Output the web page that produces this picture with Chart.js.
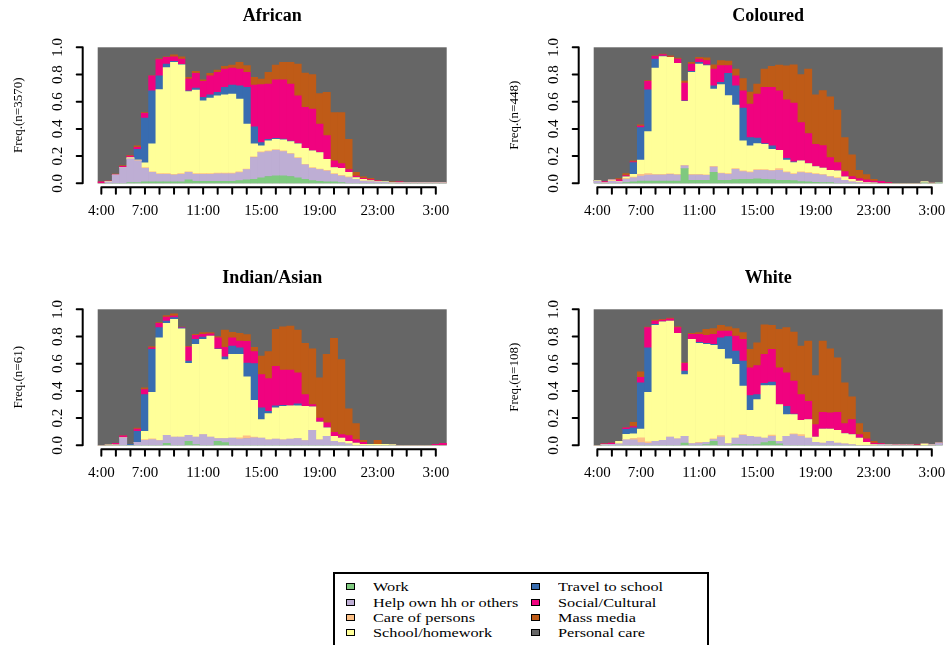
<!DOCTYPE html>
<html>
<head>
<meta charset="utf-8">
<title>Time use by population group</title>
<script src="https://cdn.jsdelivr.net/npm/chart.js@4.4.1/dist/chart.umd.min.js"></script>
<style>
  html, body { margin: 0; padding: 0; background: #fff; }
  body { width: 947px; height: 645px; overflow: hidden; position: relative; }
  canvas { position: absolute; }
  #african { left: 0; top: 0; }
  #coloured { left: 473px; top: 0; }
  #indian { left: 0; top: 262px; }
  #white { left: 473px; top: 262px; }
  #legendBox {
    position: absolute; left: 333px; top: 572px; width: 376px; height: 90px;
    box-sizing: border-box; border: 2px solid #000; background: #fff;
    font-family: "Liberation Serif", "Times New Roman", serif;
  }
  .swatch { position: absolute; width: 7px; height: 5px; border: 1.5px solid #000; }
  .legendText {
    position: absolute; font-size: 13px; line-height: 15px; height: 15px; white-space: nowrap;
    transform: scaleX(1.25); transform-origin: left center; color: #000;
  }
</style>
</head>
<body>
<canvas id="african" width="473" height="262"></canvas>
<canvas id="coloured" width="474" height="262"></canvas>
<canvas id="indian" width="473" height="262"></canvas>
<canvas id="white" width="474" height="262"></canvas>
<div id="legendBox"></div>

<script>
// half-hour slots, 4:00 to 3:30 next morning
const timeSlots = ["4:00","4:30","5:00","5:30","6:00","6:30","7:00","7:30","8:00","8:30","9:00","9:30",
  "10:00","10:30","11:00","11:30","12:00","12:30","13:00","13:30","14:00","14:30","15:00","15:30",
  "16:00","16:30","17:00","17:30","18:00","18:30","19:00","19:30","20:00","20:30","21:00","21:30",
  "22:00","22:30","23:00","23:30","0:00","0:30","1:00","1:30","2:00","2:30","3:00","3:30"];
const shownHourLabels = ["4:00","7:00","11:00","15:00","19:00","23:00","3:00"];
const yTicks = [0, 0.2, 0.4, 0.6, 0.8, 1.0];

const activities = ["Work","Help own hh or others","Care of persons","School/homework",
  "Travel to school","Social/Cultural","Mass media","Personal care"];
const activityColours = ["#7FC97F","#BEAED4","#FDC086","#FFFF99","#386CB0","#F0027F","#BF5B17","#666666"];

// African (n=3570)
const africanWork = [0,0,0,0,0.005,0.005,0.01,0.01,0.01,0.01,0.01,0.01,0.025,0.015,0.015,0.015,0.015,0.015,0.015,0.02,0.025,0.03,0.04,0.05,0.055,0.055,0.05,0.04,0.03,0.02,0.015,0.01,0.01,0.005,0,0,0,0,0,0,0,0,0,0,0,0,0,0];
const africanHelp = [0,0.01,0.06,0.115,0.175,0.16,0.1,0.07,0.056,0.056,0.05,0.056,0.055,0.051,0.051,0.051,0.055,0.055,0.055,0.059,0.075,0.16,0.186,0.183,0.188,0.178,0.164,0.144,0.105,0.09,0.085,0.08,0.056,0.049,0.042,0.03,0.017,0.012,0.01,0.008,0.003,0.003,0.003,0.003,0.003,0.003,0.003,0.003];
const africanCare = [0,0,0,0,0,0.005,0.005,0.005,0.005,0.005,0.005,0.005,0.005,0.005,0.005,0.005,0.005,0.005,0.005,0.005,0.005,0.005,0.005,0.005,0.005,0.005,0.005,0.005,0.005,0.005,0.005,0.005,0.005,0.005,0.005,0,0,0,0,0,0,0,0,0,0,0,0,0];
const africanSchool = [0,0.005,0,0,0.01,0,0.035,0.205,0.619,0.779,0.825,0.801,0.59,0.614,0.536,0.556,0.569,0.576,0.581,0.536,0.33,0.095,0.044,0.074,0.076,0.082,0.088,0.101,0.118,0.123,0.121,0.082,0.044,0.051,0.033,0.012,0.013,0.008,0.005,0.004,0.002,0,0,0,0,0,0,0];
const africanTravel = [0,0,0,0,0,0.08,0.33,0.39,0.1,0.027,0.007,0.003,0.005,0.015,0.025,0.024,0.024,0.054,0.066,0.097,0.27,0.125,0.025,0.012,0.006,0.005,0.003,0.002,0,0,0,0,0,0,0,0,0,0,0,0,0,0,0,0,0,0,0,0];
const africanSocial = [0.01,0.002,0.006,0.01,0.01,0.015,0.035,0.11,0.12,0.049,0.033,0.039,0.087,0.108,0.118,0.139,0.148,0.135,0.126,0.123,0.111,0.307,0.425,0.406,0.43,0.435,0.42,0.352,0.3,0.307,0.209,0.173,0.05,0.035,0.02,0.012,0.007,0.007,0.003,0.001,0.003,0.007,0.002,0.001,0.001,0.001,0.001,0.001];
const africanMedia = [0,0,0.002,0.005,0.005,0.01,0.005,0,0.005,0.004,0.015,0.016,0.013,0.015,0.01,0.018,0.017,0.02,0.022,0.05,0.049,0.058,0.042,0.086,0.11,0.13,0.16,0.233,0.252,0.255,0.225,0.318,0.355,0.375,0.224,0.026,0.01,0.01,0.002,0.002,0.002,0,0.001,0.001,0.001,0.001,0.004,0.001];

// Coloured (n=448)
const colouredWork = [0,0,0,0,0.005,0.01,0.017,0.017,0.017,0.017,0.017,0.017,0.108,0.022,0.022,0.022,0.08,0.022,0.022,0.027,0.03,0.03,0.032,0.03,0.027,0.022,0.022,0.02,0.012,0.01,0.008,0.005,0.005,0,0,0,0,0,0,0,0,0,0,0,0,0.004,0,0.003];
const colouredHelp = [0.015,0.003,0.015,0.01,0.025,0.03,0.037,0.043,0.043,0.043,0.048,0.043,0.02,0.038,0.038,0.036,0.04,0.049,0.044,0.076,0.056,0.049,0.064,0.066,0.064,0.074,0.057,0.046,0.067,0.064,0.058,0.055,0.042,0.037,0.022,0.01,0.005,0.003,0,0,0,0,0,0,0,0,0,0.002];
const colouredCare = [0,0,0.005,0,0.005,0.005,0.012,0.011,0.005,0.005,0.005,0.005,0.005,0.005,0.005,0.005,0.005,0.005,0.005,0.005,0.005,0.005,0.005,0.005,0.005,0.012,0.005,0.005,0.005,0.005,0.005,0.005,0.005,0.005,0,0,0,0,0,0,0,0,0,0,0,0,0,0];
const colouredSchool = [0.005,0,0.005,0.005,0.012,0.021,0.104,0.309,0.783,0.866,0.856,0.817,0.469,0.751,0.812,0.803,0.568,0.649,0.574,0.467,0.221,0.191,0.191,0.186,0.154,0.135,0.087,0.081,0.081,0.066,0.052,0.047,0.044,0.049,0.025,0.02,0.012,0.005,0.003,0,0,0,0,0,0,0.008,0.002,0.002];
const colouredTravel = [0,0,0,0,0,0.086,0.24,0.308,0.066,0.005,0,0,0.005,0.007,0.013,0.005,0.024,0.017,0.164,0.142,0.241,0.062,0.04,0.005,0.025,0,0.013,0.005,0,0,0,0,0,0,0,0,0,0,0,0,0,0,0,0,0,0,0,0];
const colouredSocial = [0,0.01,0.005,0.01,0.01,0.005,0.01,0.062,0.02,0.01,0.003,0.032,0.13,0.054,0.024,0.032,0.123,0.123,0.057,0.073,0.127,0.245,0.324,0.413,0.43,0.437,0.43,0.432,0.282,0.221,0.164,0.165,0.094,0.061,0.039,0.02,0.018,0.017,0.014,0.015,0.005,0,0,0,0,0,0,0];
const colouredMedia = [0,0,0,0.01,0.015,0.008,0.01,0.005,0.003,0.004,0.008,0.007,0.015,0.013,0.012,0.019,0.032,0.037,0.032,0.05,0.09,0.088,0.074,0.135,0.155,0.19,0.25,0.283,0.353,0.474,0.364,0.405,0.446,0.386,0.251,0.16,0.061,0.039,0.013,0,0,0,0,0,0,0,0,0];

// Indian/Asian (n=61)
const indianWork = [0,0,0,0,0,0,0,0,0,0.015,0,0,0.03,0.005,0,0,0.03,0.02,0,0,0,0,0,0,0,0,0,0,0,0,0,0,0,0,0,0,0,0,0,0,0,0,0,0,0,0,0,0];
const indianHelp = [0,0,0,0.055,0,0.022,0.037,0.042,0.034,0.059,0.061,0.061,0.044,0.056,0.079,0.061,0.02,0.03,0.054,0.045,0.05,0.055,0.054,0.04,0.045,0.04,0.045,0.05,0.035,0.11,0.04,0.066,0.03,0.02,0.01,0,0,0,0,0,0,0,0,0,0,0,0,0];
const indianCare = [0,0,0,0,0,0,0.005,0.005,0.003,0,0,0,0,0,0,0,0,0,0,0.01,0.02,0.005,0,0,0,0,0,0,0,0,0,0,0,0,0,0,0,0,0,0,0,0,0,0,0,0,0,0];
const indianSchool = [0,0.003,0.003,0,0,0,0.061,0.343,0.753,0.823,0.865,0.796,0.528,0.681,0.701,0.742,0.655,0.58,0.614,0.613,0.434,0.27,0.136,0.193,0.23,0.247,0.245,0.24,0.252,0.173,0.13,0.062,0.036,0.034,0.02,0.017,0.008,0.007,0.007,0.007,0.006,0,0,0,0,0,0,0];
const indianTravel = [0,0,0,0,0.008,0.08,0.27,0.315,0.075,0.017,0.014,0.006,0.018,0.038,0.016,0,0.005,0.02,0.062,0.049,0.1,0.27,0.085,0.017,0.015,0.007,0,0.015,0,0,0,0,0,0,0,0,0,0,0,0,0,0,0,0,0,0,0,0];
const indianSocial = [0,0,0.012,0.015,0,0.017,0.037,0.012,0.032,0.029,0.01,0.004,0.102,0.028,0.02,0.017,0.08,0.07,0.06,0.05,0.16,0.09,0.245,0.24,0.29,0.259,0.263,0.228,0.086,0.017,0.03,0.037,0.03,0.025,0.041,0.025,0.014,0,0,0,0,0,0,0,0,0,0.007,0.015];
const indianMedia = [0,0,0,0,0,0.008,0.013,0.008,0.005,0.01,0.016,0.003,0.006,0.008,0.012,0.008,0.01,0.128,0.04,0.056,0.05,0.03,0.136,0.2,0.273,0.319,0.324,0.315,0.377,0.41,0.296,0.503,0.69,0.551,0.197,0.118,0.015,0,0.03,0,0,0,0,0,0,0,0,0];

// White (n=108)
const whiteWork = [0,0,0,0,0,0,0,0,0,0,0,0,0.017,0,0,0.005,0.03,0,0,0.005,0.005,0.003,0.005,0.02,0.03,0.01,0,0,0,0,0,0,0,0,0,0,0,0,0,0,0,0,0,0,0,0,0,0];
const whiteHelp = [0,0.005,0.008,0.01,0.04,0.04,0.02,0.015,0.03,0.037,0.061,0.047,0.049,0.012,0.017,0.017,0.012,0.061,0.012,0.049,0.069,0.063,0.056,0.034,0.036,0.02,0.066,0.079,0.066,0.054,0.022,0.017,0.03,0.017,0.01,0.005,0,0,0,0.006,0.003,0.002,0.002,0.002,0,0,0.003,0.017];
const whiteCare = [0,0,0,0,0,0.01,0.035,0.01,0,0,0,0,0,0,0.005,0,0.005,0.01,0,0,0.005,0,0,0,0.009,0,0,0.006,0.012,0,0,0,0,0,0,0,0,0,0,0,0,0,0,0,0,0,0,0];
const whiteSchool = [0,0,0,0.02,0.04,0.035,0.065,0.365,0.852,0.87,0.853,0.776,0.454,0.768,0.728,0.72,0.688,0.634,0.624,0.541,0.356,0.192,0.276,0.386,0.365,0.27,0.16,0.141,0.106,0.136,0.039,0.103,0.09,0.093,0.076,0.074,0.054,0.022,0.005,0,0,0,0,0,0,0.01,0,0];
const whiteTravel = [0,0,0,0,0.037,0.043,0.34,0.327,0.008,0,0,0,0.025,0,0.008,0.008,0.007,0.085,0.164,0.098,0.185,0.108,0.036,0.015,0.024,0,0.061,0.004,0,0,0,0,0,0,0,0,0,0,0,0,0,0,0,0,0,0,0,0];
const whiteSocial = [0,0.005,0.008,0,0.012,0.01,0.04,0.148,0.024,0.014,0.016,0.042,0.057,0.036,0.058,0.058,0.074,0.05,0.04,0.11,0.159,0.204,0.214,0.213,0.241,0.27,0.246,0.242,0.189,0.134,0.091,0.123,0.118,0.133,0.074,0.111,0.025,0.025,0.012,0.006,0.004,0.003,0.003,0.003,0.003,0,0,0];
const whiteMedia = [0,0,0,0,0,0.03,0.04,0.005,0.006,0.005,0.005,0.007,0.005,0.007,0.012,0.045,0.042,0.042,0.032,0.055,0.049,0.135,0.167,0.217,0.177,0.283,0.332,0.361,0.357,0.443,0.361,0.524,0.472,0.401,0.3,0.166,0.081,0.049,0.013,0,0,0,0,0,0,0,0,0];

const panels = [
  { canvas: "african", title: "African", n: 3570,
    series: [africanWork, africanHelp, africanCare, africanSchool, africanTravel, africanSocial, africanMedia] },
  { canvas: "coloured", title: "Coloured", n: 448,
    series: [colouredWork, colouredHelp, colouredCare, colouredSchool, colouredTravel, colouredSocial, colouredMedia] },
  { canvas: "indian", title: "Indian/Asian", n: 61,
    series: [indianWork, indianHelp, indianCare, indianSchool, indianTravel, indianSocial, indianMedia] },
  { canvas: "white", title: "White", n: 108,
    series: [whiteWork, whiteHelp, whiteCare, whiteSchool, whiteTravel, whiteSocial, whiteMedia] },
];

// plot area inside each canvas
const leftPadding = { african: 97.7, coloured: 120.7, indian: 97.7, white: 120.7 };
const rightPadding = { african: 26.3, coloured: 4.3, indian: 26.3, white: 4.3 };

const serif = "'Liberation Serif', 'Times New Roman', serif";

// grey backdrop (personal care fills the rest of each bar) plus R-style axes
const rAxesPlugin = {
  id: "rAxes",
  beforeDatasetsDraw(chart) {
    const { ctx, chartArea } = chart;
    ctx.save();
    ctx.fillStyle = activityColours[7];
    ctx.fillRect(chartArea.left, chartArea.top, chartArea.right - chartArea.left, chartArea.bottom - chartArea.top);
    ctx.restore();
  },
  afterDraw(chart, args, opts) {
    const { ctx, chartArea } = chart;
    const xs = chart.scales.x;
    const ys = chart.scales.y;
    ctx.save();
    ctx.strokeStyle = "#000";
    ctx.fillStyle = "#000";
    ctx.lineWidth = 2;
    ctx.lineCap = "round";

    // title
    ctx.font = "bold 18px " + serif;
    ctx.textAlign = "center";
    ctx.textBaseline = "alphabetic";
    ctx.fillText(opts.title, (chartArea.left + chartArea.right) / 2, chartArea.top - 26.3);

    // y axis
    const axisX = chartArea.left - 15;
    ctx.beginPath();
    ctx.moveTo(axisX, ys.getPixelForValue(yTicks[0]));
    ctx.lineTo(axisX, ys.getPixelForValue(yTicks[yTicks.length - 1]));
    yTicks.forEach((v) => {
      const py = ys.getPixelForValue(v);
      ctx.moveTo(axisX, py);
      ctx.lineTo(axisX - 6, py);
    });
    ctx.stroke();

    ctx.font = "15px " + serif;
    yTicks.forEach((v) => {
      ctx.save();
      ctx.translate(chartArea.left - 35.7, ys.getPixelForValue(v));
      ctx.rotate(-Math.PI / 2);
      ctx.fillText(v.toFixed(1), 0, 0);
      ctx.restore();
    });

    ctx.font = "13px " + serif;
    ctx.save();
    ctx.translate(chartArea.left - 76, (chartArea.top + chartArea.bottom) / 2);
    ctx.rotate(-Math.PI / 2);
    ctx.fillText(opts.yTitle, 0, 0);
    ctx.restore();

    // x axis, a tick every hour
    const axisY = chartArea.bottom + 4;
    const hourIdx = [];
    timeSlots.forEach((t, i) => { if (t.endsWith(":00")) hourIdx.push(i); });
    ctx.beginPath();
    ctx.moveTo(xs.getPixelForValue(hourIdx[0]), axisY);
    ctx.lineTo(xs.getPixelForValue(hourIdx[hourIdx.length - 1]), axisY);
    hourIdx.forEach((i) => {
      const px = xs.getPixelForValue(i);
      ctx.moveTo(px, axisY);
      ctx.lineTo(px, axisY + 6.5);
    });
    ctx.stroke();

    ctx.font = "15px " + serif;
    hourIdx.forEach((i) => {
      if (shownHourLabels.includes(timeSlots[i])) {
        ctx.fillText(timeSlots[i], xs.getPixelForValue(i), axisY + 27.7);
      }
    });
    ctx.restore();
  },
};

function renderPanel(panel) {
  const ctx = document.getElementById(panel.canvas).getContext("2d");
  const datasets = panel.series.map((values, i) => ({
    label: activities[i],
    data: values,
    backgroundColor: activityColours[i],
    borderWidth: 0,
    barPercentage: 1,
    categoryPercentage: 1,
  }));
  new Chart(ctx, {
    type: "bar",
    data: { labels: timeSlots, datasets: datasets },
    options: {
      responsive: false,
      animation: false,
      layout: {
        padding: { left: leftPadding[panel.canvas], right: rightPadding[panel.canvas], top: 47.3, bottom: 78.7 },
      },
      plugins: {
        legend: { display: false },
        title: { display: false },
        tooltip: { enabled: false },
        rAxes: { title: panel.title, yTitle: "Freq.(n=" + panel.n + ")" },
      },
      scales: {
        x: { stacked: true, display: false },
        y: { stacked: true, display: false, min: 0, max: 1 },
      },
    },
    plugins: [rAxesPlugin],
  });
}

// Legend box under the panels, two columns of four
function renderLegend() {
  const box = document.getElementById("legendBox");
  const swatchLeft = [11, 195.7];
  const textLeft = [37.7, 222.7];
  const rowCentre = [13.3, 28.5, 43.7, 58.9];
  activities.forEach((name, i) => {
    const col = Math.floor(i / 4);
    const row = i % 4;
    const swatch = document.createElement("div");
    swatch.className = "swatch";
    swatch.style.left = swatchLeft[col] + "px";
    swatch.style.top = (rowCentre[row] - 4) + "px";
    swatch.style.background = activityColours[i];
    const label = document.createElement("div");
    label.className = "legendText";
    label.style.left = textLeft[col] + "px";
    label.style.top = (rowCentre[row] - 8) + "px";
    label.textContent = name;
    box.appendChild(swatch);
    box.appendChild(label);
  });
}

function init() {
  panels.forEach(renderPanel);
  renderLegend();
}

init();
</script>
</body>
</html>
